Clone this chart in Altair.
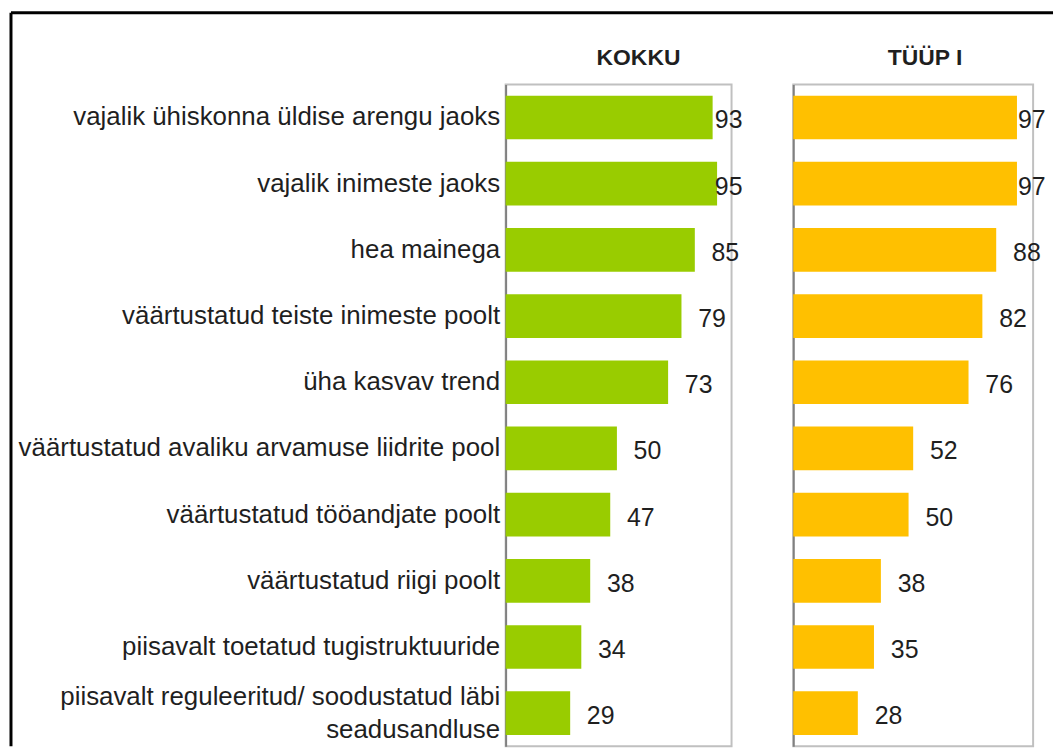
import altair as alt
import pandas as pd

categories = [
    "vajalik ühiskonna üldise arengu jaoks",
    "vajalik inimeste jaoks",
    "hea mainega",
    "väärtustatud teiste inimeste poolt",
    "üha kasvav trend",
    "väärtustatud avaliku arvamuse liidrite pool",
    "väärtustatud tööandjate poolt",
    "väärtustatud riigi poolt",
    "piisavalt toetatud tugistruktuuride",
    "piisavalt reguleeritud/ soodustatud läbi|seadusandluse",
]
kokku = [93, 95, 85, 79, 73, 50, 47, 38, 34, 29]
tyyp = [97, 97, 88, 82, 76, 52, 50, 38, 35, 28]
panel_titles = ["KOKKU", "TÜÜP I"]

df = pd.DataFrame({"cat": categories, "kokku": kokku, "tyyp": tyyp})
one = pd.DataFrame({"a": [0]})

FONT = "Liberation Sans"
TXT = "#1f1f1f"
H = 665
WK = 227
WT = 241

yscale = alt.Scale(paddingInner=0.34, paddingOuter=0.17)


def title_mark(text, x):
    return alt.Chart(pd.DataFrame({"t": [text]})).mark_text(
        font=FONT, fontSize=23, fontWeight="bold", color=TXT,
        align="center", baseline="middle",
    ).encode(text="t:N", x=alt.value(x), y=alt.value(-27))


# ---- KOKKU panel ----
xk = alt.Scale(domain=[0, 101.5], nice=False, zero=True)
bars_k = alt.Chart(df).mark_bar(color="#99CC00").encode(
    x=alt.X("kokku:Q", scale=xk, axis=None),
    y=alt.Y(
        "cat:N",
        sort=categories,
        scale=yscale,
        title=None,
        axis=alt.Axis(
            labelExpr="split(datum.label, '|')",
            labelFont=FONT,
            labelFontSize=26,
            labelColor=TXT,
            labelPadding=6,
            labelLimit=700,
            labelLineHeight=33,
            labelOffset={
                "condition": {"test": "indexof(datum.value, '|') >= 0", "value": -16},
                "value": 0,
            },
            ticks=False,
            domain=True,
            domainColor="#808080",
            domainWidth=2,
            grid=False,
        ),
    ),
)
text_k = (
    alt.Chart(df)
    .transform_calculate(pos="min(datum.kokku + 7.5, 94)")
    .mark_text(align="left", baseline="middle", dy=3, fontSize=25, font=FONT, color=TXT)
    .encode(
        x=alt.X("pos:Q", scale=xk),
        y=alt.Y("cat:N", sort=categories),
        text="kokku:Q",
    )
)
left_border = alt.Chart(one).mark_rule(color="black", strokeWidth=3).encode(
    x=alt.value(-497), y=alt.value(-72), y2=alt.value(H)
)
top_border = alt.Chart(one).mark_rule(color="black", strokeWidth=3).encode(
    x=alt.value(-497), x2=alt.value(550), y=alt.value(-72)
)
panel_k = alt.layer(
    left_border, top_border, bars_k, text_k, title_mark(panel_titles[0], WK / 2 + 20)
).properties(width=WK, height=H)

# ---- TÜÜP I panel ----
xt = alt.Scale(domain=[0, 104], nice=False, zero=True)
bars_t = alt.Chart(df).mark_bar(color="#FFC000").encode(
    x=alt.X("tyyp:Q", scale=xt, axis=None),
    y=alt.Y(
        "cat:N",
        sort=categories,
        scale=yscale,
        title=None,
        axis=alt.Axis(labels=False, ticks=False, domain=True, domainColor="#808080",
                      domainWidth=2, grid=False),
    ),
)
text_t = (
    alt.Chart(df)
    .transform_calculate(pos="min(datum.tyyp + 7.3, 97.4)")
    .mark_text(align="left", baseline="middle", dy=3, fontSize=25, font=FONT, color=TXT)
    .encode(
        x=alt.X("pos:Q", scale=xt),
        y=alt.Y("cat:N", sort=categories),
        text="tyyp:Q",
    )
)
panel_t = alt.layer(
    bars_t, text_t, title_mark(panel_titles[1], WT / 2 + 12)
).properties(width=WT, height=H)

chart = (
    alt.hconcat(panel_k, panel_t, spacing=62, bounds="flush")
    .properties(padding=0, background="white")
    .configure_view(stroke="#c0c0c0", strokeWidth=2)
)

chart.save("out.html", embed_options={"renderer": "svg", "actions": False})
